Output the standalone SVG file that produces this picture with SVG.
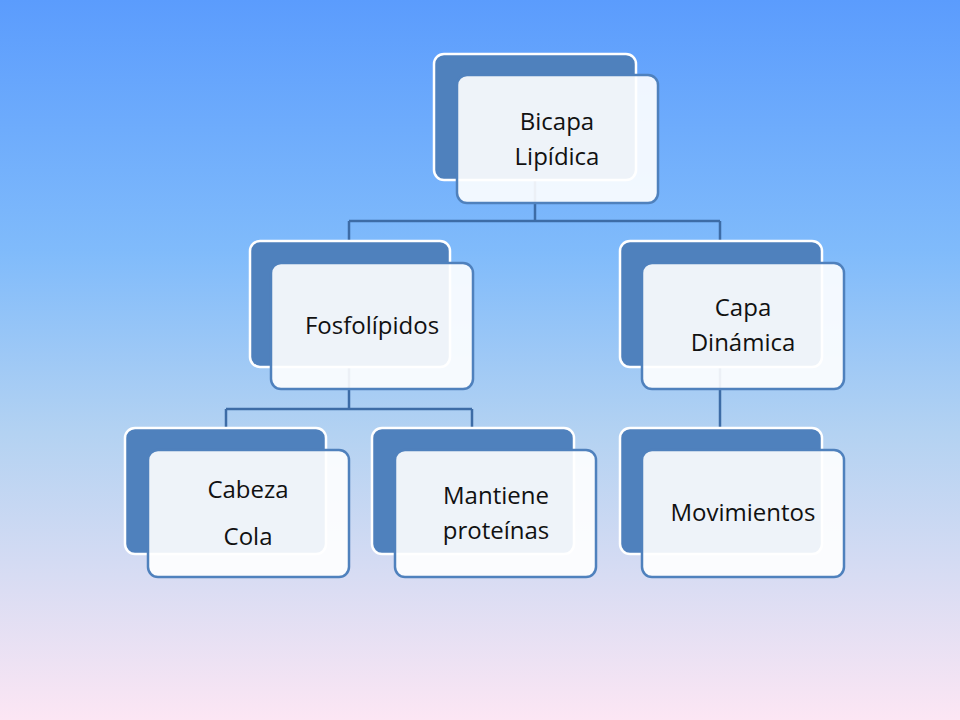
<svg xmlns="http://www.w3.org/2000/svg" width="960" height="720" viewBox="0 0 960 720">
<defs>
<linearGradient id="bg" x1="0" y1="0" x2="0" y2="1">
<stop offset="0" stop-color="#5b9cfd"/>
<stop offset="0.35" stop-color="#80bbfb"/>
<stop offset="0.6" stop-color="#b3d2f2"/>
<stop offset="1" stop-color="#fce6f4"/>
</linearGradient>
<style>
.b{fill:#4f81bd;stroke:#fff;stroke-width:2.5}
.f{fill:#fff;fill-opacity:0.9;stroke:#4f81bd;stroke-width:2.5}
.c{fill:none;stroke:#3d6ca6;stroke-width:2.5}
text{font-family:"Open Sans","Liberation Sans",sans-serif;font-size:24px;fill:#111;text-anchor:middle}
</style>
</defs>
<rect width="960" height="720" fill="url(#bg)"/>
<g id="connectors">
<path class="c" d="M535 180V221M349 221H720M349 221V241M720 221V241"/>
<path class="c" d="M349 367V409M226 409H472M226 409V428M472 409V428"/>
<path class="c" d="M720 367V428"/>
</g>
<g id="root"><rect class="b" x="434" y="54" width="202" height="126" rx="10"/><rect class="f" x="457" y="75" width="201" height="128" rx="10"/><text x="557" y="130">Bicapa</text><text x="557" y="165">Lipídica</text></g>
<g id="fosfo"><rect class="b" x="250" y="241" width="200" height="126" rx="10"/><rect class="f" x="271" y="263" width="202" height="126" rx="10"/><text x="372" y="334">Fosfolípidos</text></g>
<g id="capa"><rect class="b" x="620" y="241" width="202" height="126" rx="10"/><rect class="f" x="642" y="263" width="202" height="126" rx="10"/><text x="743" y="316">Capa</text><text x="743" y="351">Dinámica</text></g>
<g id="cabeza"><rect class="b" x="125" y="428" width="201" height="126" rx="10"/><rect class="f" x="148" y="450" width="201" height="127" rx="10"/><text x="248" y="498">Cabeza</text><text x="248" y="545">Cola</text></g>
<g id="mantiene"><rect class="b" x="372" y="428" width="202" height="126" rx="10"/><rect class="f" x="395" y="450" width="201" height="127" rx="10"/><text x="496" y="504">Mantiene</text><text x="496" y="539">proteínas</text></g>
<g id="mov"><rect class="b" x="620" y="428" width="202" height="126" rx="10"/><rect class="f" x="642" y="450" width="202" height="127" rx="10"/><text x="743" y="521">Movimientos</text></g>
</svg>
